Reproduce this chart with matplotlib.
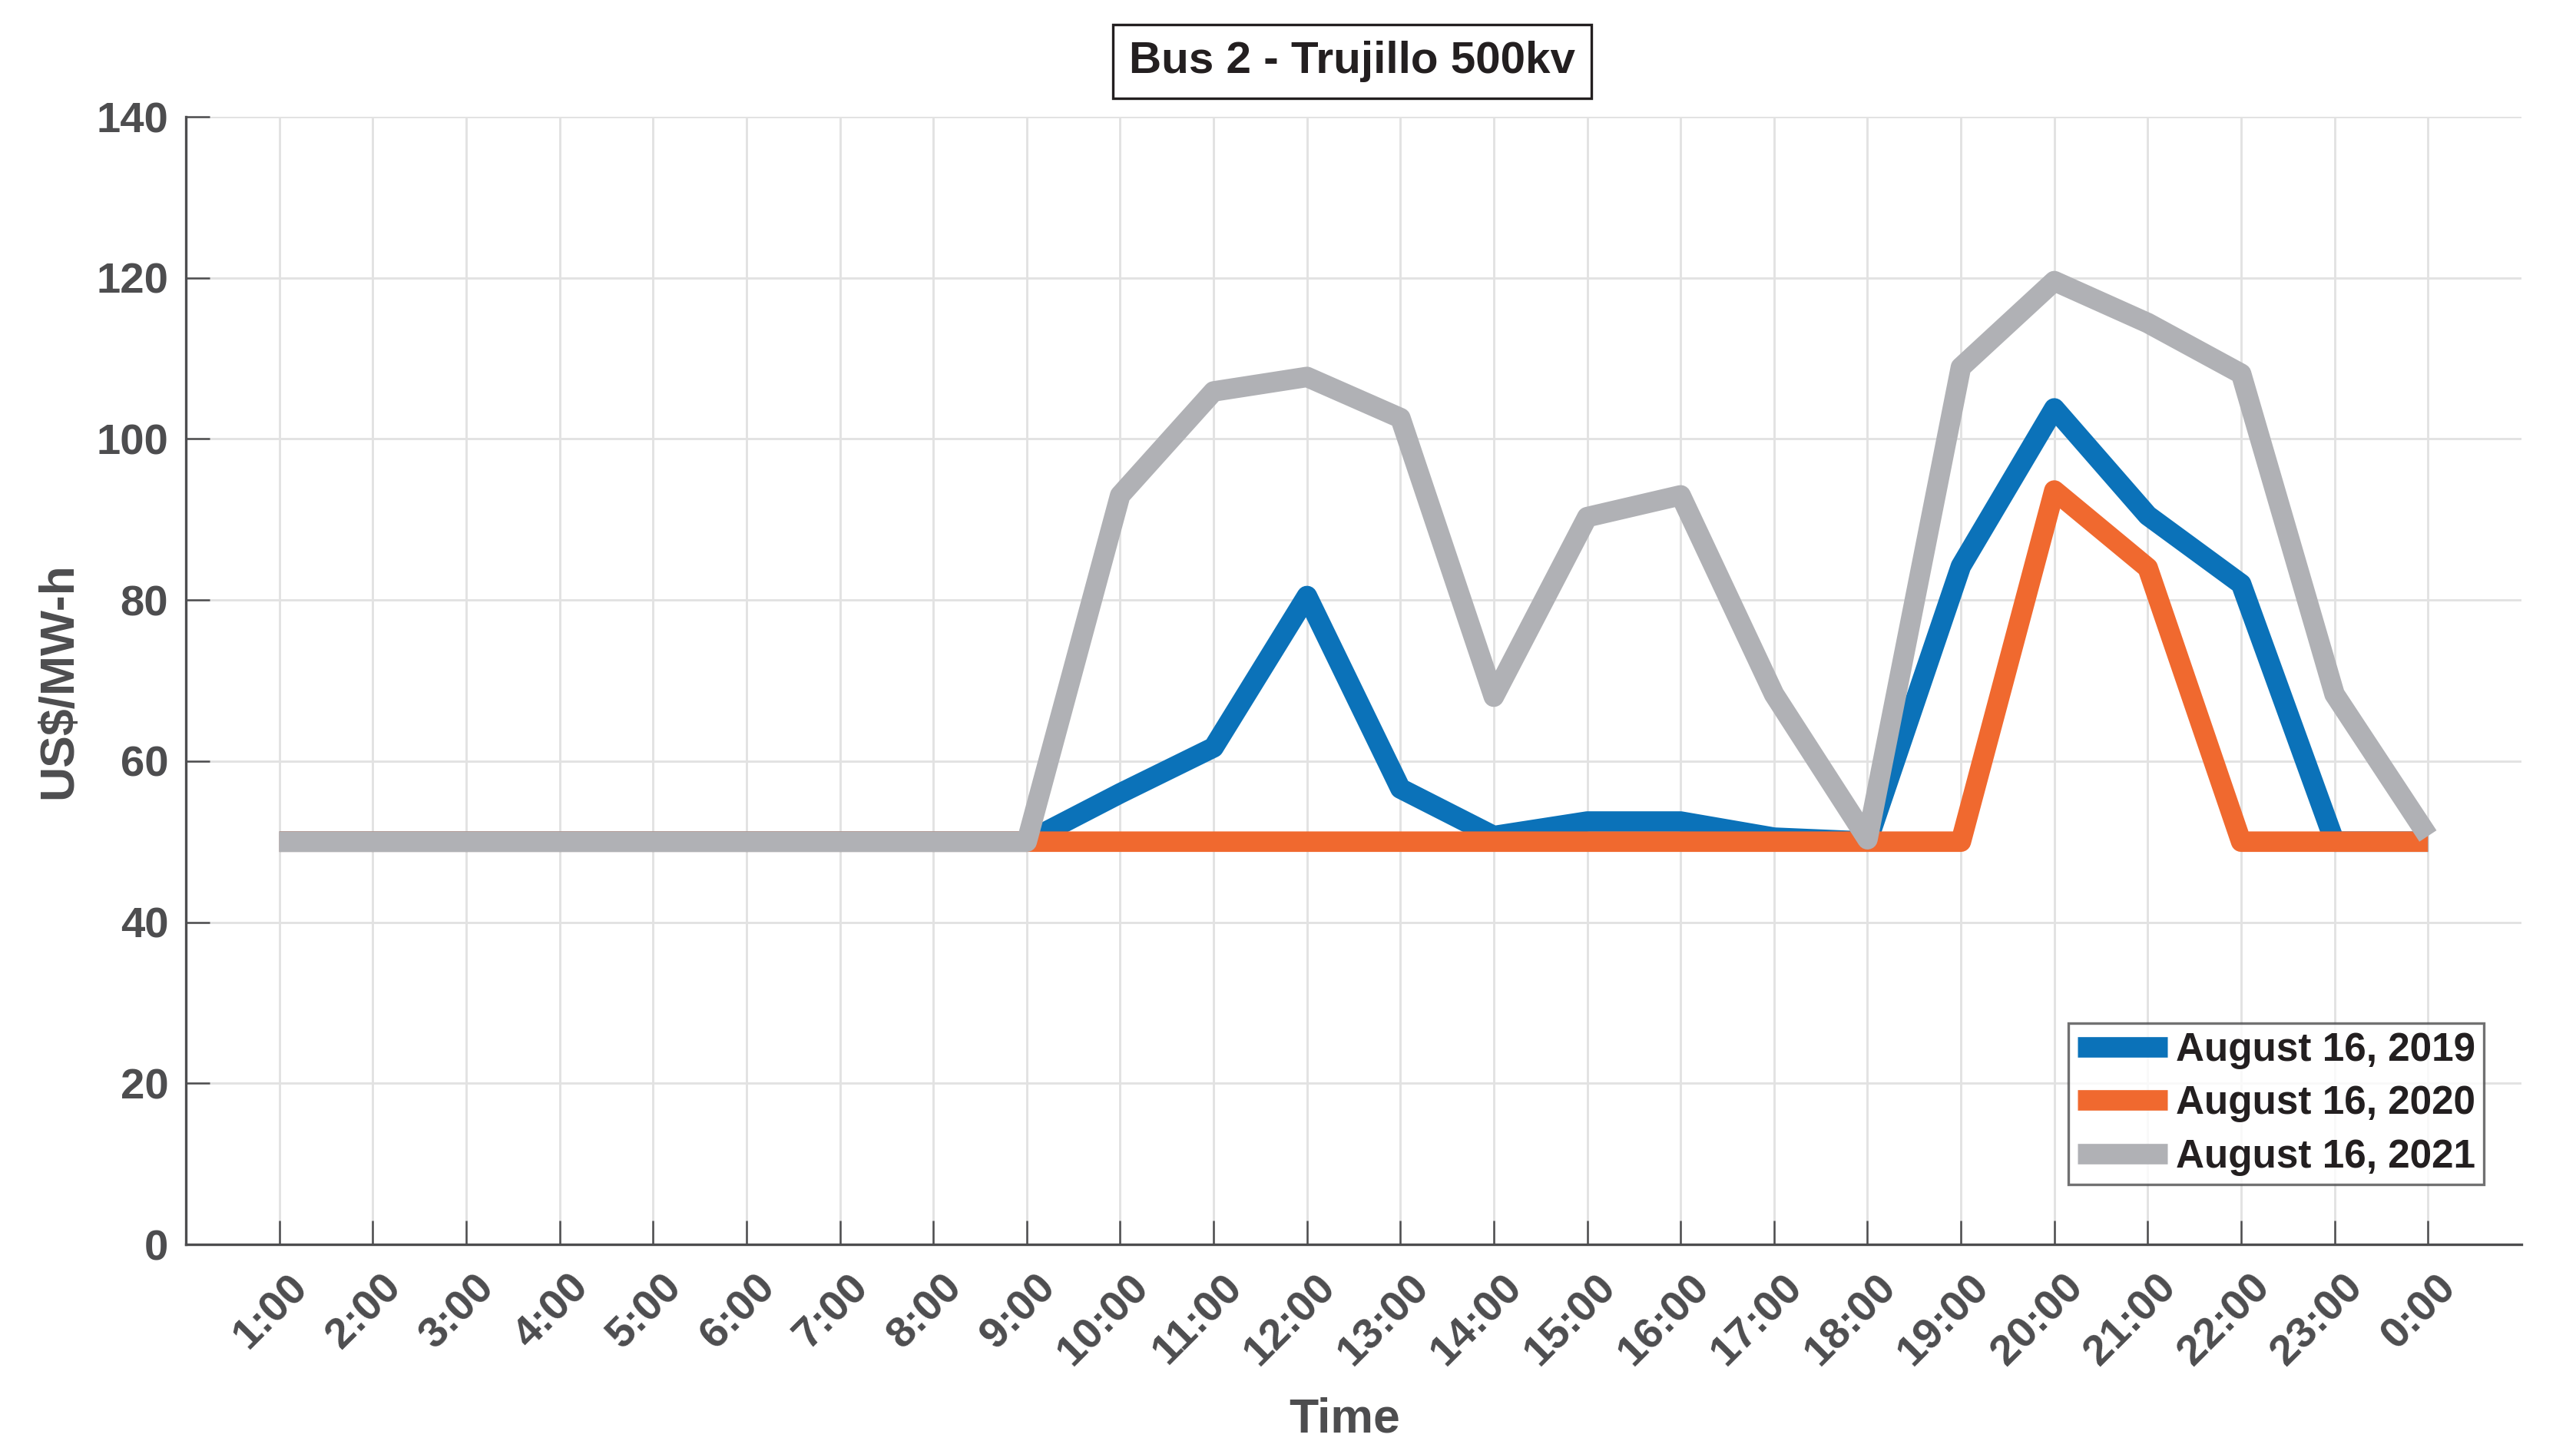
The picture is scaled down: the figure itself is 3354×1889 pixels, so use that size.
"""Bus 2 - Trujillo 500kv marginal cost chart."""
#####################################################
# IMPORTS
#####################################################
import matplotlib
matplotlib.use("Agg")
import matplotlib.pyplot as plt
import matplotlib.transforms as mtransforms


#####################################################
# DATA
#####################################################

hours = list(range(1, 25))
hour_labels = [f"{h}:00" for h in range(1, 24)] + ["0:00"]

cost_2019 = [50, 50, 50, 50, 50, 50, 50, 50, 50, 56, 61.7, 80.5, 56.6, 50.7,
             52.5, 52.5, 50.5, 50, 84.2, 103.8, 90.5, 82, 50, 50]
cost_2020 = [50, 50, 50, 50, 50, 50, 50, 50, 50, 50, 50, 50, 50, 50,
             50, 50, 50, 50, 50, 93.6, 84, 50, 50, 50]
cost_2021 = [50, 50, 50, 50, 50, 50, 50, 50, 50, 93, 105.9, 107.7, 102.6, 68,
             90.3, 93, 68.3, 50.3, 108.9, 119.6, 114.4, 108.1, 68.3, 50.7]

series_labels = ["August 16, 2019", "August 16, 2020", "August 16, 2021"]
y_ticks = [0, 20, 40, 60, 80, 100, 120, 140]

#####################################################
# PARAMETERS
#####################################################

colors = ["#0b72b9", "#f0692f", "#b0b1b5"]
axis_color = "#4d4d4f"
text_color = "#231f20"
plt.rcParams["font.family"] = ["Liberation Sans", "DejaVu Sans"]
plt.rcParams["font.weight"] = "bold"
plt.rcParams["axes.labelweight"] = "bold"
plt.rcParams["axes.titleweight"] = "bold"

#####################################################
# PLOT
#####################################################

fig = plt.figure(figsize=(3354 / 300, 1889 / 300), dpi=300)
ax = fig.add_axes([0.0722, 0.1424, 0.9066, 0.7771])

for vals, col, lab in zip([cost_2019, cost_2020, cost_2021], colors, series_labels):
    ax.plot(hours, vals, color=col, linewidth=6.4, label=lab,
            solid_joinstyle="round", solid_capstyle="butt")

ax.set_xlim(0, 25)
ax.set_ylim(0, 140)
ax.set_xticks(hours)
ax.set_xticklabels(hour_labels, rotation=45, ha="right", va="center",
                   rotation_mode="anchor")
ax.set_yticks(y_ticks)

ax.grid(True, color="#e2e2e2", linewidth=0.7)
ax.set_axisbelow(True)

ax.tick_params(axis="both", direction="in", length=7.4, width=0.6,
               colors=axis_color, labelsize=13.5, labelcolor=axis_color)
ax.tick_params(axis="x", pad=11.5)
ax.tick_params(axis="y", pad=5.5)

# shift rotated hour labels to the right like the original
shift = mtransforms.ScaledTranslation(7 / 72, 0, fig.dpi_scale_trans)
for lbl in ax.get_xticklabels():
    lbl.set_transform(lbl.get_transform() + shift)

for side in ["top", "right"]:
    ax.spines[side].set_visible(False)
for side in ["left", "bottom"]:
    ax.spines[side].set_color(axis_color)
    ax.spines[side].set_linewidth(0.8)

ax.set_xlabel("Time", fontsize=15, color=axis_color)
ax.xaxis.label.set_va("center")
ax.xaxis.set_label_coords(0.496, -0.155)
ax.set_ylabel("US$/MW-h", fontsize=15, color=axis_color)
ax.yaxis.label.set_va("center")
ax.yaxis.set_label_coords(-0.0545, 0.5)

fig.text(0.525, 0.9577, "Bus 2 - Trujillo 500kv", fontsize=14, fontweight="bold",
         color=text_color, ha="center", va="center",
         bbox=dict(boxstyle="square,pad=0.36", facecolor="white",
                   edgecolor=text_color, linewidth=0.8))

leg = ax.legend(loc="lower right", fontsize=12.3, frameon=True, fancybox=False,
                handlelength=2.3, handletextpad=0.2, borderpad=0.22,
                labelspacing=0.4, borderaxespad=0,
                bbox_to_anchor=(0.9839, 0.0531))
leg.get_frame().set_edgecolor(axis_color)
leg.get_frame().set_linewidth(0.8)
for t in leg.get_texts():
    t.set_color(text_color)

fig.savefig("out.png", dpi=300)
plt.close()
